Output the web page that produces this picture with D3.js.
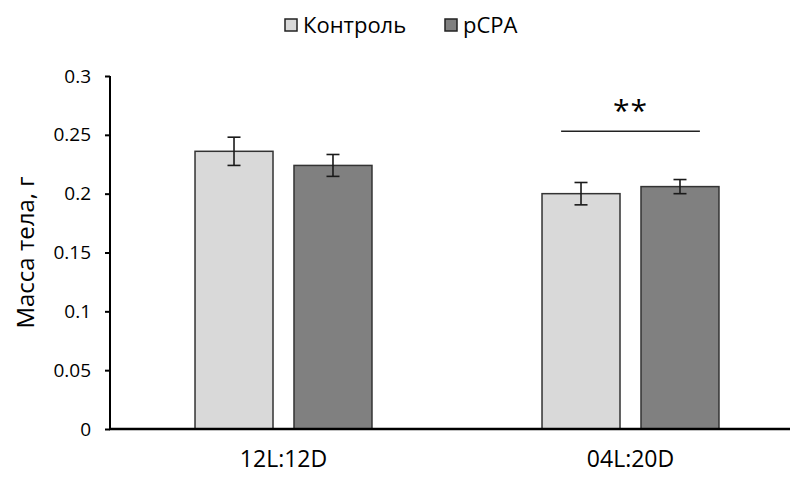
<!DOCTYPE html>
<html>
<head>
<meta charset="utf-8">
<script src="https://cdn.jsdelivr.net/npm/d3@7/dist/d3.min.js"></script>
<style>
  html, body { margin: 0; padding: 0; background: #fff; }
  svg { display: block; font-family: "Open Sans", Lato, sans-serif; }
</style>
</head>
<body>
<svg id="chart" width="790" height="477"></svg>
<script>
// Body mass by photoperiod, control vs pCPA
const groups = ["12L:12D", "04L:20D"];
const series = ["Контроль", "pCPA"];
const controlMean = [0.236, 0.200];
const controlErr  = [0.012, 0.0095];
const pcpaMean    = [0.224, 0.206];
const pcpaErr     = [0.0093, 0.006];
const yTicks = [0, 0.05, 0.1, 0.15, 0.2, 0.25, 0.3];
const yTickLabels = ["0", "0.05", "0.1", "0.15", "0.2", "0.25", "0.3"];
const yTitle = "Масса тела, г";
const sigGroup = "04L:20D";
const sigLevel = 0.253;
const sigLabel = "**";

const fills = { "Контроль": "#d9d9d9", "pCPA": "#808080" };
const font = "'Open Sans', Lato, sans-serif";

const rows = groups.map((g, i) => ({
  group: g,
  values: [
    { series: series[0], mean: controlMean[i], err: controlErr[i] },
    { series: series[1], mean: pcpaMean[i], err: pcpaErr[i] }
  ]
}));

const svg = d3.select("#chart");
const plotLeft = 110, plotRight = 804, plotTop = 76, plotBottom = 429;

const x = d3.scaleBand().domain(groups).range([plotLeft, plotRight]).padding(0);
const xs = d3.scaleBand().domain(series).range([0, x.bandwidth()])
  .paddingInner(0.212).paddingOuter(0.859);
const y = d3.scaleLinear().domain([0, 0.3]).range([plotBottom, plotTop]);

// bars
const grp = svg.append("g").selectAll("g.grp").data(rows).join("g")
  .attr("class", "grp")
  .attr("transform", d => `translate(${x(d.group)},0)`);

grp.selectAll("rect").data(d => d.values).join("rect")
  .attr("x", d => xs(d.series))
  .attr("y", d => y(d.mean))
  .attr("width", xs.bandwidth())
  .attr("height", d => y(0) - y(d.mean))
  .attr("fill", d => fills[d.series])
  .attr("stroke", "#333")
  .attr("stroke-width", 1.5);

// error bars
const cap = 6.5;
const eb = grp.selectAll("g.err").data(d => d.values).join("g")
  .attr("class", "err")
  .attr("stroke", "#1a1a1a")
  .attr("stroke-width", 1.6);
const mid = d => xs(d.series) + xs.bandwidth() / 2;
eb.append("line")
  .attr("x1", mid).attr("x2", mid)
  .attr("y1", d => y(d.mean + d.err))
  .attr("y2", d => y(d.mean - d.err));
eb.append("line")
  .attr("x1", d => mid(d) - cap).attr("x2", d => mid(d) + cap)
  .attr("y1", d => y(d.mean + d.err))
  .attr("y2", d => y(d.mean + d.err));
eb.append("line")
  .attr("x1", d => mid(d) - cap).attr("x2", d => mid(d) + cap)
  .attr("y1", d => y(d.mean - d.err))
  .attr("y2", d => y(d.mean - d.err));

// y axis
const yAxis = d3.axisLeft(y).tickValues(yTicks)
  .tickFormat((d, i) => yTickLabels[i]).tickSize(5).tickPadding(14);
const ya = svg.append("g").attr("transform", `translate(${plotLeft},0)`).call(yAxis);
ya.select(".domain").attr("stroke", "#000").attr("stroke-width", 2)
  .attr("d", `M0,${plotTop}V${plotBottom}`);
ya.selectAll(".tick line").attr("stroke", "#000").attr("stroke-width", 2);
ya.selectAll(".tick text").attr("font-size", 19).attr("fill", "#000")
  .attr("font-family", font);

// x axis
const xAxis = d3.axisBottom(x).tickSize(0).tickPadding(22);
const xa = svg.append("g").attr("transform", `translate(0,${plotBottom})`).call(xAxis);
xa.select(".domain").attr("stroke", "#000").attr("stroke-width", 2.5)
  .attr("d", `M${plotLeft - 1},0H${plotRight}`);
xa.selectAll(".tick text").attr("font-size", 23).attr("fill", "#000")
  .attr("font-family", font);

// y title
svg.append("text")
  .attr("transform", `translate(34,${(plotTop + plotBottom) / 2}) rotate(-90)`)
  .attr("text-anchor", "middle")
  .attr("font-size", 24)
  .attr("fill", "#000")
  .text(yTitle);

// significance mark
const cx = x(sigGroup) + x.bandwidth() / 2;
const half = x.bandwidth() * 0.2;
svg.append("line")
  .attr("x1", cx - half).attr("x2", cx + half)
  .attr("y1", y(sigLevel)).attr("y2", y(sigLevel))
  .attr("stroke", "#222").attr("stroke-width", 1.6);
svg.append("text")
  .attr("x", cx).attr("y", y(sigLevel) - 10)
  .attr("text-anchor", "middle")
  .attr("font-size", 30)
  .attr("letter-spacing", 1)
  .attr("fill", "#000")
  .text(sigLabel);

// legend
const legend = svg.append("g").attr("transform", "translate(285,19)");
const items = [
  { name: series[0], dx: 0 },
  { name: series[1], dx: 160 }
];
const li = legend.selectAll("g").data(items).join("g")
  .attr("transform", d => `translate(${d.dx},0)`);
li.append("rect")
  .attr("x", 0).attr("y", 0).attr("width", 12).attr("height", 12)
  .attr("fill", d => fills[d.name]).attr("stroke", "#222").attr("stroke-width", 1.5);
li.append("text")
  .attr("x", 18).attr("y", 14)
  .attr("font-size", 22).attr("fill", "#000")
  .text(d => d.name);
</script>
</body>
</html>
